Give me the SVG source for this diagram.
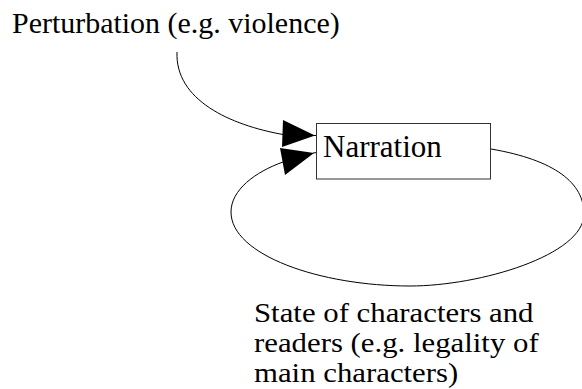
<svg xmlns="http://www.w3.org/2000/svg" width="582" height="389" viewBox="0 0 582 389">
  <rect width="582" height="389" fill="#fff"/>

  <g id="connectors" stroke="#000" stroke-width="1">
    <!-- perturbation into narration -->
    <path fill="none" d="M177,52 C175,100 230,125 283,134.5"/>
    <polygon fill="#000" stroke="none" points="283,120 282,147 315,135.5"/>
    <line x1="314" y1="135.5" x2="317" y2="135.5"/>
    <!-- feedback loop from narration back to itself -->
    <path fill="none" d="M491,149 C555,160 584,183 584,214 C584,255 480,286 410,286 C320,286 231,255 231,212 C231,190 255,172 283,162"/>
    <polygon fill="#000" stroke="none" points="280,148 285,175 314,153"/>
    <line x1="313" y1="153" x2="317" y2="152.5"/>
  </g>

  <g font-family="Liberation Serif, Tinos, Times New Roman, serif" font-size="28" fill="#000">
    <g id="perturbation">
      <text transform="translate(12,33) scale(1.07)">Perturbation (e.g. violence)</text>
    </g>

    <g id="narration">
      <rect x="316.5" y="123.5" width="174" height="55.5" fill="#fff" stroke="#333" stroke-width="1"/>
      <text transform="translate(323,157) scale(1.107)">Narration</text>
    </g>

    <!-- three stacked lines, set tight so their boxes just touch -->
    <g id="state">
      <text transform="translate(254,321.5) scale(1.1,0.95)">State of characters and</text>
      <text transform="translate(254,351.5) scale(1.1,0.95)">readers (e.g. legality of</text>
      <text transform="translate(254,381.5) scale(1.1,0.95)">main characters)</text>
    </g>
  </g>
</svg>
